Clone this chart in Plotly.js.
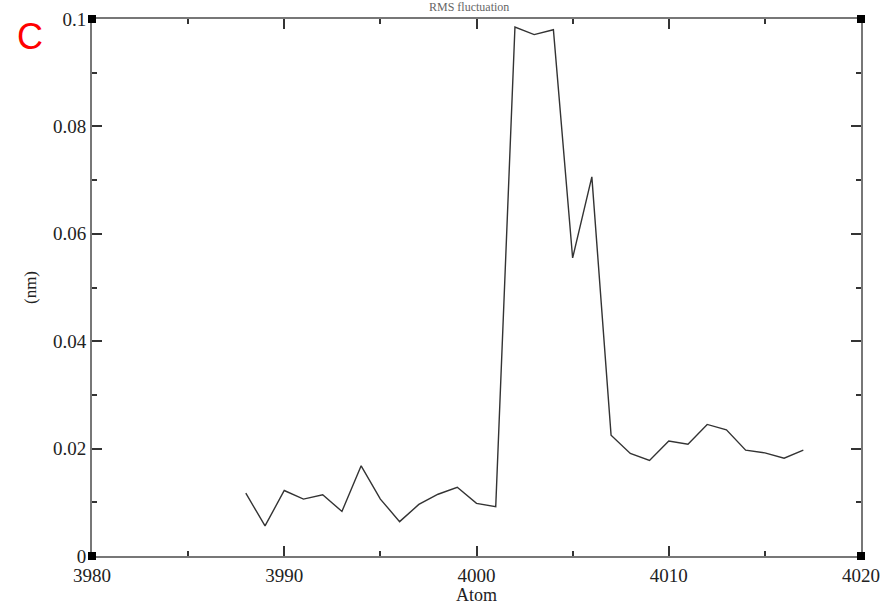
<!DOCTYPE html>
<html>
<head>
<meta charset="utf-8">
<script src="https://cdn.plot.ly/plotly-3.0.1.min.js"></script>
<style>html,body{margin:0;padding:0;background:#fff;}#chart{width:887px;height:605px;}</style>
</head>
<body>
<div id="chart"></div>
<script>
const atoms = [3988,3989,3990,3991,3992,3993,3994,3995,3996,3997,3998,3999,4000,4001,4002,4003,4004,4005,4006,4007,4008,4009,4010,4011,4012,4013,4014,4015,4016,4017];
const rmsf = [0.0117,0.0056,0.0122,0.0106,0.0114,0.0083,0.0168,0.0106,0.0064,0.0096,0.0115,0.0128,0.0098,0.0092,0.0985,0.0971,0.0980,0.0555,0.0706,0.0225,0.0191,0.0178,0.0214,0.0208,0.0245,0.0235,0.0197,0.0192,0.0182,0.0197];
const xTickVals = [3980,3990,4000,4010,4020];
const yTickVals = [0,0.02,0.04,0.06,0.08,0.1];

const serif = 'Liberation Serif, Times New Roman, serif';
function corner(xp, yp){
  return {type:'rect', xref:'paper', yref:'paper', xsizemode:'pixel', ysizemode:'pixel',
    xanchor:xp, yanchor:yp, x0:-4, x1:4, y0:-4, y1:4, fillcolor:'#000', line:{width:0}};
}
const layout = {
  width:887, height:605,
  margin:{l:92, r:26, t:19, b:49},
  paper_bgcolor:'#fff', plot_bgcolor:'#fff',
  showlegend:false,
  font:{family:serif, color:'#000000', size:16},
  xaxis:{range:[3980,4020], tickvals:xTickVals, ticks:'inside', ticklen:10, tickwidth:1.5, tickcolor:'#333',
    showline:true, linecolor:'#777', linewidth:2, mirror:'allticks', showgrid:false, zeroline:false,
    minor:{dtick:5, tick0:3980, ticks:'inside', ticklen:5, tickwidth:1.5, tickcolor:'#333', showgrid:false},
    ticklabelstandoff:1,
    tickfont:{family:serif, size:19, color:'#222222'}},
  yaxis:{range:[0,0.1], tickvals:yTickVals, ticks:'inside', ticklen:10, tickwidth:1.5, tickcolor:'#333',
    showline:true, linecolor:'#777', linewidth:2, mirror:'allticks', showgrid:false, zeroline:false,
    minor:{dtick:0.01, tick0:0, ticks:'inside', ticklen:5, tickwidth:1.5, tickcolor:'#333', showgrid:false},
    tickfont:{family:serif, size:19, color:'#222222'},
    title:{text:'(nm)', font:{family:serif, size:17, color:'#222222'}, standoff:12}},
  shapes:[corner(0,0), corner(1,0), corner(0,1), corner(1,1)],
  annotations:[
    {text:'C', xref:'paper', yref:'paper', x:-0.1, y:1.01, xanchor:'left', yanchor:'top', showarrow:false,
     font:{family:'Liberation Sans, Arial, sans-serif', size:36, color:'#ff0000'}},
    {text:'RMS fluctuation', xref:'paper', yref:'paper', x:0.49, y:1, yshift:3, xanchor:'center', yanchor:'bottom', showarrow:false,
     font:{family:serif, size:12, color:'#666666'}},
    {text:'Atom', xref:'paper', yref:'paper', x:0.5, y:0, yshift:-39, xanchor:'center', yanchor:'middle', showarrow:false,
     font:{family:serif, size:18, color:'#222222'}}
  ]
};
Plotly.newPlot('chart', [{x:atoms, y:rmsf, type:'scatter', mode:'lines', line:{color:'#333', width:1.4}}], layout, {displayModeBar:false});
</script>
</body>
</html>
